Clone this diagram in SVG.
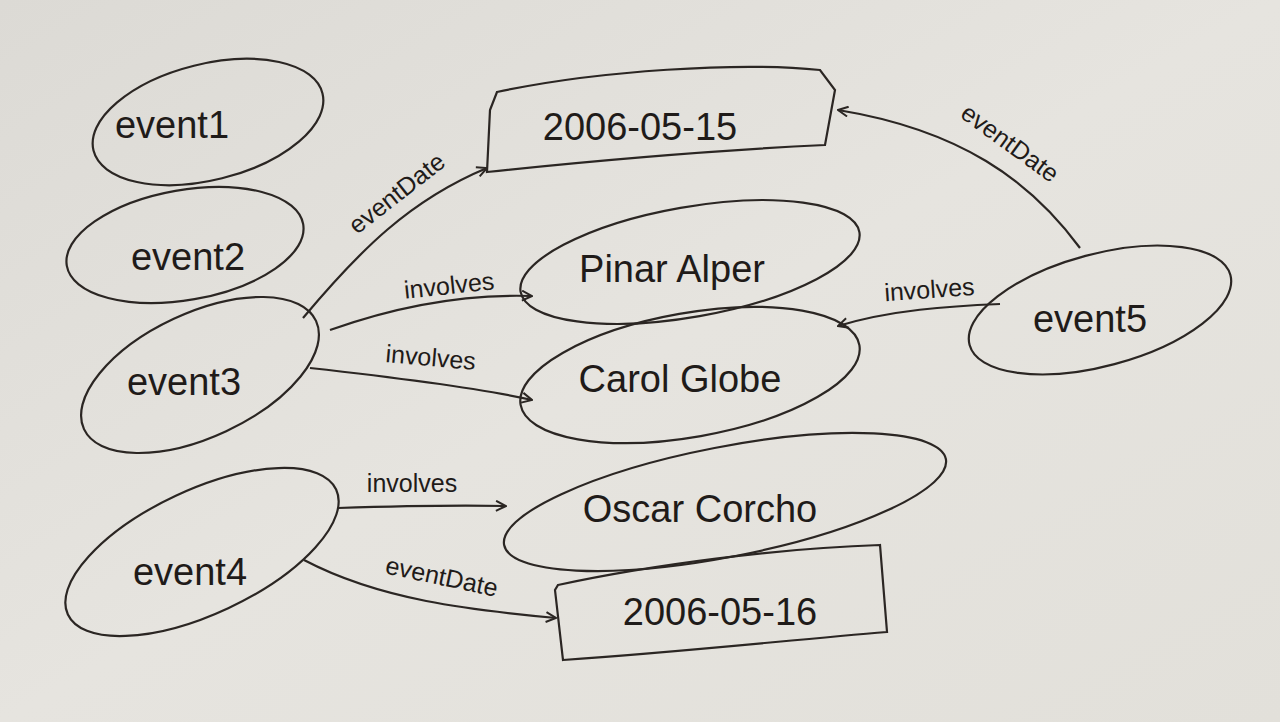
<svg xmlns="http://www.w3.org/2000/svg" width="1280" height="722" viewBox="0 0 1280 722">
<defs>
<linearGradient id="paper" x1="0" y1="0" x2="1" y2="1">
<stop offset="0" stop-color="#dcdad5"/>
<stop offset="0.5" stop-color="#e6e4df"/>
<stop offset="1" stop-color="#e2e0da"/>
</linearGradient>
<marker id="arr" viewBox="0 0 12 12" refX="11" refY="6" markerWidth="12" markerHeight="12" markerUnits="userSpaceOnUse" orient="auto">
<path d="M1,1 L11,6 L1,11" fill="none" stroke="#2b2623" stroke-width="2"/>
</marker>
<style>
.shape{fill:none;stroke:#2b2623;stroke-width:2.2}
.edge{fill:none;stroke:#2b2623;stroke-width:2.2;marker-end:url(#arr)}
.nl{font-family:"Liberation Sans",Arial,sans-serif;font-size:38px;fill:#1f1b19;text-anchor:middle}
.el{font-family:"Liberation Sans",Arial,sans-serif;font-size:25px;fill:#1f1b19;text-anchor:middle}
</style>
</defs>
<rect width="1280" height="722" fill="url(#paper)"/>

<g id="connectors">
<g id="e3-date"><path class="edge" d="M303,318 C360,250 410,200 487,168"/><text class="el" transform="translate(402,200) rotate(-38)">eventDate</text></g>
<g id="e5-date"><path class="edge" d="M1080,248 C1030,180 960,130 838,110"/><text class="el" transform="translate(1005,150) rotate(36)">eventDate</text></g>
<g id="e3-pinar"><path class="edge" d="M330,330 C400,305 470,294 532,296"/><text class="el" transform="translate(450,294) rotate(-6)">involves</text></g>
<g id="e3-carol"><path class="edge" d="M310,368 C400,378 480,388 532,400"/><text class="el" transform="translate(430,366) rotate(5)">involves</text></g>
<g id="e5-carol"><path class="edge" d="M1000,304 C950,306 890,310 838,326"/><text class="el" transform="translate(930,298) rotate(-4)">involves</text></g>
<g id="e4-oscar"><path class="edge" d="M338,508 C400,506 460,505 506,506"/><text class="el" x="412" y="492">involves</text></g>
<g id="e4-date"><path class="edge" d="M304,560 C380,600 470,610 556,618"/><text class="el" transform="translate(440,585) rotate(12)">eventDate</text></g>
</g>

<g id="event1"><ellipse class="shape" cx="208" cy="122" rx="118" ry="58" transform="rotate(-14 208 122)"/><text class="nl" x="172" y="138">event1</text></g>
<g id="event2"><ellipse class="shape" cx="185" cy="245" rx="120" ry="55" transform="rotate(-10 185 245)"/><text class="nl" x="188" y="270">event2</text></g>
<g id="event3"><ellipse class="shape" cx="200" cy="375" rx="128" ry="62" transform="rotate(-25 200 375)"/><text class="nl" x="184" y="395">event3</text></g>
<g id="event4"><ellipse class="shape" cx="202" cy="552" rx="148" ry="62" transform="rotate(-25 202 552)"/><text class="nl" x="190" y="585">event4</text></g>
<g id="event5"><ellipse class="shape" cx="1100" cy="310" rx="135" ry="56" transform="rotate(-15 1100 310)"/><text class="nl" x="1090" y="332">event5</text></g>

<g id="date15"><path class="shape" d="M497,92 C600,70 740,62 820,70 L835,90 L825,145 C720,150 600,160 487,172 L490,110 Z"/><text class="nl" x="640" y="140">2006-05-15</text></g>
<g id="pinar"><ellipse class="shape" cx="690" cy="262" rx="172" ry="55" transform="rotate(-10 690 262)"/><text class="nl" x="672" y="282">Pinar Alper</text></g>
<g id="carol"><ellipse class="shape" cx="690" cy="375" rx="172" ry="62" transform="rotate(-10 690 375)"/><text class="nl" x="680" y="392">Carol Globe</text></g>
<g id="oscar"><ellipse class="shape" cx="725" cy="502" rx="225" ry="55" transform="rotate(-11 725 502)"/><text class="nl" x="700" y="522">Oscar Corcho</text></g>
<g id="date16"><path class="shape" d="M558,585 C650,565 780,548 880,545 L887,632 C790,640 680,652 563,660 L555,590 Z"/><text class="nl" x="720" y="625">2006-05-16</text></g>
</svg>
